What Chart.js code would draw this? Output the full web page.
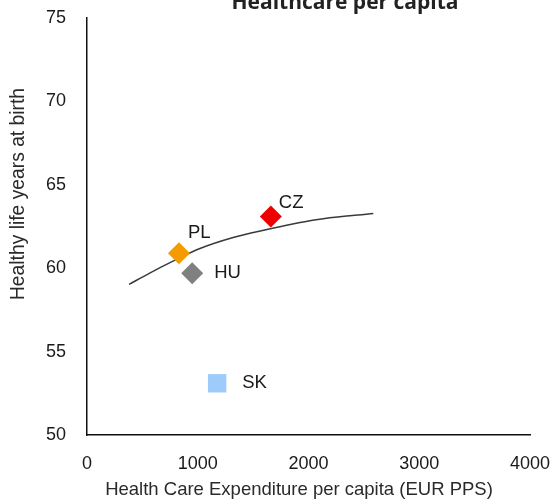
<!DOCTYPE html>
<html>
<head>
<meta charset="utf-8">
<script src="https://cdn.jsdelivr.net/npm/chart.js@4.4.1/dist/chart.umd.min.js"></script>
<style>
  html, body { margin: 0; padding: 0; background: #fff; }
  #wrap { width: 557px; height: 502px; position: relative; }
</style>
</head>
<body>
<div id="wrap"><canvas id="c" width="557" height="502"></canvas></div>
<script>
// countries and their values (spending in EUR PPS, healthy life years)
const countries = ["PL", "HU", "CZ", "SK"];
const spending = [830, 950, 1660, 1175];
const lifeYears = [60.9, 59.7, 63.1, 53.1];

// trend line
const trendX = [380, 570, 795, 1020, 1320, 1625, 1835, 2085, 2395, 2585];
const trendY = [59.03, 59.72, 60.48, 61.18, 61.84, 62.32, 62.62, 62.92, 63.16, 63.28];

// axis ticks
const xTicks = [0, 1000, 2000, 3000, 4000];
const yTicks = [50, 55, 60, 65, 70, 75];

// styling
const markerColors = ["#f59b00", "#808080", "#ee0000", "#9dcbfa"];
const markerStyles = ["rectRot", "rectRot", "rectRot", "rect"];
const markerRadius = [11, 11, 11, 13];
const labelOffsets = [[9, -20], [22, 0], [8, -14], [25, 0]];

const FONT = "'Liberation Sans', Arial, sans-serif";

const textPlugin = {
  id: "texts",
  afterDatasetsDraw(chart) {
    const ctx = chart.ctx;
    const meta = chart.getDatasetMeta(0);
    ctx.save();
    ctx.fillStyle = "#1a1a1a";
    ctx.font = "18.5px " + FONT;
    ctx.textAlign = "left";
    ctx.textBaseline = "middle";
    meta.data.forEach((pt, i) => {
      ctx.fillText(countries[i], pt.x + labelOffsets[i][0], pt.y + labelOffsets[i][1]);
    });
    ctx.restore();
  },
  afterDraw(chart) {
    const ctx = chart.ctx;
    ctx.save();
    // title, partly cut off at the top edge
    ctx.fillStyle = "#222";
    ctx.font = "bold 21px 'Open Sans', sans-serif";
    ctx.textAlign = "center";
    ctx.textBaseline = "alphabetic";
    ctx.fillText("Healthcare per capita", 345, 9);
    // axis titles
    ctx.fillStyle = "#2a2a2a";
    ctx.font = "18.5px " + FONT;
    ctx.textBaseline = "middle";
    ctx.fillText("Health Care Expenditure per capita (EUR PPS)", 299, 490);
    ctx.translate(19, 194);
    ctx.rotate(-Math.PI / 2);
    ctx.font = "19.3px " + FONT;
    ctx.fillText("Healthy life years at birth", 0, 0);
    ctx.restore();
  }
};

const bgPlugin = {
  id: "bg",
  beforeDraw(chart) {
    const ctx = chart.ctx;
    ctx.save();
    ctx.fillStyle = "#fff";
    ctx.fillRect(0, 0, chart.width, chart.height);
    ctx.restore();
  }
};

// invisible tick marks keep the labels away from the axis lines
const hiddenGrid = (len) => ({
  display: true, drawOnChartArea: false, drawTicks: true,
  tickLength: len, tickColor: "rgba(0,0,0,0)", color: "rgba(0,0,0,0)"
});

new Chart(document.getElementById("c"), {
  type: "scatter",
  data: {
    datasets: [
      {
        label: "Countries",
        data: countries.map((c, i) => ({ x: spending[i], y: lifeYears[i] })),
        backgroundColor: markerColors,
        borderColor: markerColors,
        borderWidth: 0,
        pointStyle: markerStyles,
        pointRadius: markerRadius,
        pointHoverRadius: markerRadius
      },
      {
        label: "Trend",
        type: "line",
        data: trendX.map((x, i) => ({ x: x, y: trendY[i] })),
        borderColor: "#3a3a3a",
        borderWidth: 1.5,
        pointRadius: 0,
        fill: false,
        cubicInterpolationMode: "monotone"
      }
    ]
  },
  options: {
    responsive: false,
    animation: false,
    layout: { padding: { top: 18, right: 27, left: 0, bottom: 0 } },
    plugins: {
      legend: { display: false },
      tooltip: { enabled: false },
      title: { display: false }
    },
    scales: {
      x: {
        type: "linear",
        min: 0,
        max: 4000,
        afterBuildTicks: (s) => { s.ticks = xTicks.map(v => ({ value: v })); },
        grid: hiddenGrid(18),
        border: { display: true, color: "#111", width: 1.5 },
        ticks: {
          color: "#1a1a1a", font: { size: 18, family: FONT }, padding: 0, maxRotation: 0,
          callback: (v) => String(v)
        },
        afterFit: (s) => { s.height = 67; }
      },
      y: {
        min: 50,
        max: 75,
        afterBuildTicks: (s) => { s.ticks = yTicks.map(v => ({ value: v })); },
        grid: hiddenGrid(21),
        border: { display: true, color: "#111", width: 1.5 },
        ticks: { color: "#1a1a1a", font: { size: 18, family: FONT }, padding: 0 },
        afterFit: (s) => { s.width = 87; }
      }
    }
  },
  plugins: [bgPlugin, textPlugin]
});
</script>
</body>
</html>
